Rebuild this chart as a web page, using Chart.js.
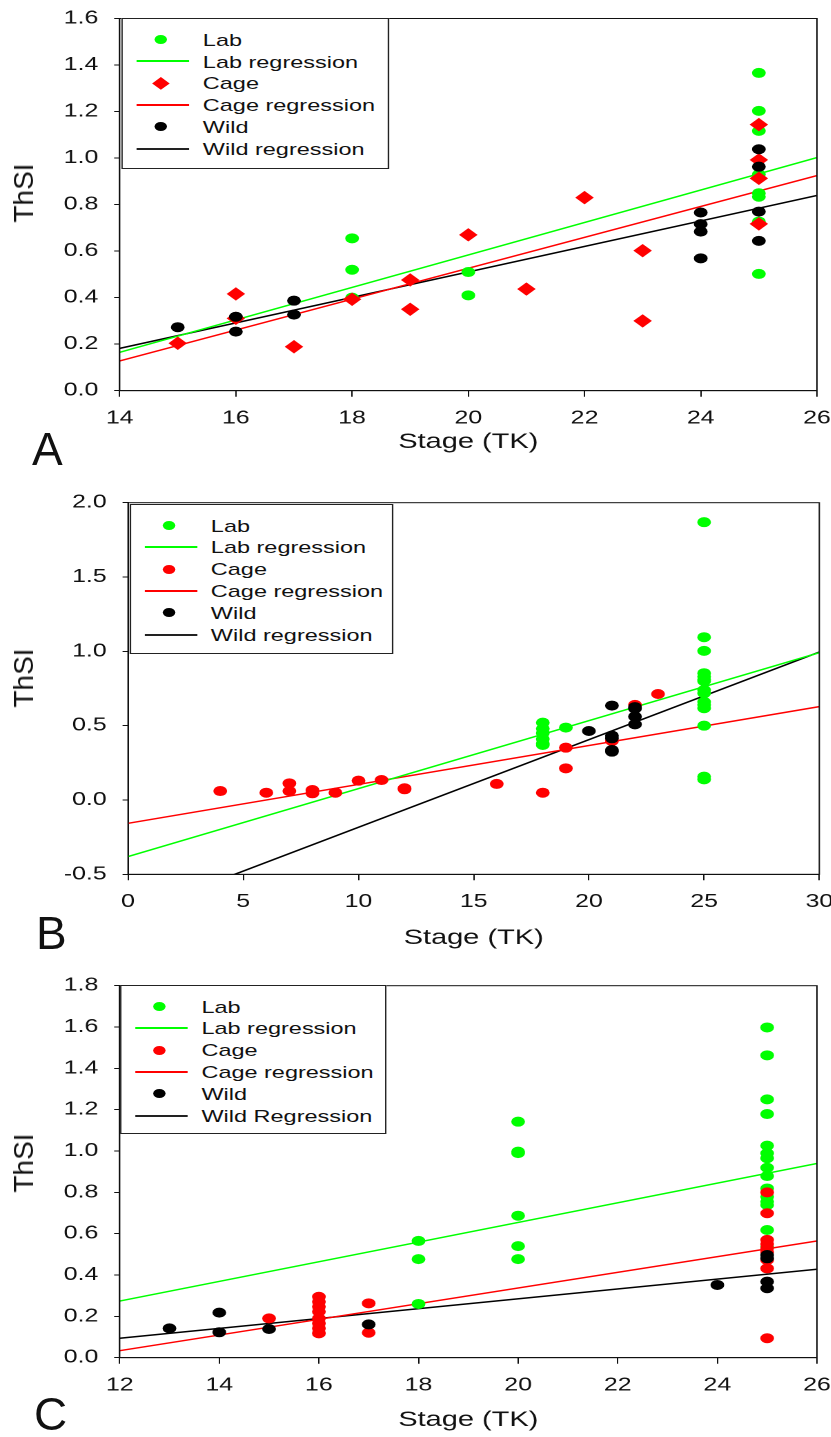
<!DOCTYPE html>
<html>
<head>
<meta charset="utf-8">
<script src="https://cdn.jsdelivr.net/npm/chart.js@4.4.0/dist/chart.umd.min.js"></script>
<style>
  body { margin: 0; background: #fff; width: 831px; height: 1437px; position: relative; overflow: hidden;
         font-family: 'Liberation Sans', Arial, sans-serif; color: #111; }
  .panel { position: absolute; left: 0; width: 602.17px; transform: scaleX(1.38); transform-origin: 0 0; }
  .panel canvas { display: block; }
  .legend { position: absolute; border: 1px solid #222; background: #fff; box-sizing: border-box; }
  .legend .txt { position: absolute; font-size: 17px; line-height: 1; white-space: nowrap; transform: translateY(-50%); }
  .legend .mk { position: absolute; }
  .letter { position: absolute; font-size: 46px; line-height: 1; }
  .ytitle { position: absolute; font-size: 28px; line-height: 1; white-space: nowrap;
            transform: translate(-50%, -50%) rotate(-90deg); }
</style>
</head>
<body>

<div class="panel" id="panelA" style="top:0px;height:470px"><canvas id="chartA"></canvas></div>
<div class="panel" id="panelB" style="top:485px;height:475px"><canvas id="chartB"></canvas></div>
<div class="panel" id="panelC" style="top:968px;height:469px"><canvas id="chartC"></canvas></div>

<div class="ytitle" style="left:24px;top:193px">ThSI</div>
<div class="ytitle" style="left:24px;top:678px">ThSI</div>
<div class="ytitle" style="left:24px;top:1163px">ThSI</div>

<div class="letter" style="left:32px;top:426px">A</div>
<div class="letter" style="left:36px;top:910px">B</div>
<div class="letter" style="left:34px;top:1391px">C</div>

<script>
// ---- Panel A ----
const xTicksA = [14, 16, 18, 20, 22, 24, 26];
const yTicksA = [0, 0.2, 0.4, 0.6, 0.8, 1.0, 1.2, 1.4, 1.6];
const labStageA = [18, 18, 18, 20, 20, 25, 25, 25, 25, 25, 25, 25, 25];
const labThsiA  = [0.655, 0.52, 0.40, 0.51, 0.41, 1.366, 1.203, 1.117, 0.93, 0.849, 0.834, 0.727, 0.502];
const cageStageA = [15, 16, 16, 17, 18, 19, 19, 20, 21, 22, 23, 23, 25, 25, 25, 25];
const cageThsiA  = [0.204, 0.416, 0.311, 0.189, 0.393, 0.476, 0.35, 0.67, 0.437, 0.83, 0.602, 0.30, 1.144, 0.992, 0.913, 0.717];
const wildStageA = [15, 16, 16, 17, 17, 24, 24, 24, 24, 25, 25, 25, 25];
const wildThsiA  = [0.273, 0.318, 0.254, 0.387, 0.327, 0.766, 0.716, 0.684, 0.569, 1.038, 0.963, 0.77, 0.644];
const fitStageA = [14, 26];
const labFitA  = [0.165, 1.002];
const cageFitA = [0.128, 0.925];
const wildFitA = [0.182, 0.839];

// ---- Panel B ----
const xTicksB = [0, 5, 10, 15, 20, 25, 30];
const yTicksB = [-0.5, 0, 0.5, 1.0, 1.5, 2.0];
const labStageB = [18, 18, 18, 18, 18, 18, 19, 25, 25, 25, 25, 25, 25, 25, 25, 25, 25, 25, 25, 25, 25, 25];
const labThsiB  = [0.52, 0.48, 0.45, 0.41, 0.38, 0.37, 0.487, 1.869, 1.095, 1.003, 0.853, 0.83, 0.81, 0.80, 0.74, 0.718, 0.66, 0.64, 0.617, 0.50, 0.157, 0.139];
const cageStageB = [4, 6, 7, 7, 8, 8, 9, 10, 11, 12, 12, 16, 18, 19, 19, 21, 22, 23];
const cageThsiB  = [0.06, 0.049, 0.112, 0.06, 0.067, 0.045, 0.049, 0.13, 0.134, 0.079, 0.072, 0.108, 0.049, 0.352, 0.213, 0.397, 0.64, 0.713];
const wildStageB = [20, 21, 21, 21, 21, 21, 22, 22, 22, 22];
const wildThsiB  = [0.464, 0.635, 0.433, 0.415, 0.336, 0.325, 0.625, 0.615, 0.561, 0.509];
const fitStageB = [0, 30];
const labFitB  = [-0.381, 0.991];
const cageFitB = [-0.157, 0.628];
const wildFitB = [-0.773, 0.995];

// ---- Panel C ----
const xTicksC = [12, 14, 16, 18, 20, 22, 24, 26];
const yTicksC = [0, 0.2, 0.4, 0.6, 0.8, 1.0, 1.2, 1.4, 1.6, 1.8];
const labStageC = [18, 18, 18, 20, 20, 20, 20, 20, 20, 25, 25, 25, 25, 25, 25, 25, 25, 25, 25, 25, 25, 25, 25, 25];
const labThsiC  = [0.565, 0.477, 0.26, 1.142, 0.997, 0.99, 0.687, 0.54, 0.477, 1.598, 1.463, 1.25, 1.179, 1.026, 0.989, 0.965, 0.919, 0.879, 0.819, 0.779, 0.755, 0.739, 0.618, 0.537];
const cageStageC = [15, 16, 16, 16, 16, 16, 16, 16, 16, 17, 17, 25, 25, 25, 25, 25, 25, 25, 25, 25];
const cageThsiC  = [0.19, 0.295, 0.271, 0.247, 0.223, 0.19, 0.166, 0.142, 0.118, 0.263, 0.121, 0.80, 0.699, 0.57, 0.55, 0.53, 0.51, 0.473, 0.432, 0.094];
const wildStageC = [13, 14, 14, 15, 17, 24, 25, 25, 25, 25];
const wildThsiC  = [0.142, 0.218, 0.123, 0.139, 0.161, 0.352, 0.497, 0.481, 0.368, 0.336];
const fitStageC = [12, 26];
const labFitC  = [0.274, 0.94];
const cageFitC = [0.034, 0.565];
const wildFitC = [0.094, 0.428];

const FONT = "'Liberation Sans', Arial, sans-serif";
const GREEN = '#00ff00', RED = '#ff0000', BLACK = '#000000';

function pts(xs, ys) {
    return xs.map((x, i) => ({ x: x, y: ys[i] }));
}

function dots(label, xs, ys, color, shape, radius, order) {
    return {
        label: label, data: pts(xs, ys), order: order,
        pointStyle: shape, pointRadius: radius, pointBorderWidth: 1,
        backgroundColor: color, borderColor: color, showLine: false
    };
}

function fit(label, xs, ys, color) {
    return {
        label: label, data: pts(xs, ys), order: 10,
        showLine: true, pointRadius: 0, borderWidth: 1.5,
        borderColor: color, backgroundColor: color, fill: false
    };
}

// box round the plot area
const framePlugin = {
    id: 'frame',
    afterDraw(chart) {
        const a = chart.chartArea, ctx = chart.ctx;
        ctx.save();
        ctx.strokeStyle = '#111';
        ctx.lineWidth = 1;
        ctx.strokeRect(a.left, a.top, a.right - a.left, a.bottom - a.top);
        ctx.restore();
    }
};

function makeChart(id, p) {
    return new Chart(document.getElementById(id), {
        type: 'scatter',
        data: { datasets: p.datasets },
        plugins: [framePlugin],
        options: {
            responsive: true,
            maintainAspectRatio: false,
            animation: false,
            devicePixelRatio: 2,
            layout: { padding: { top: p.padTop, right: p.padRight, left: 0, bottom: 0 } },
            plugins: { legend: { display: false }, tooltip: { enabled: false } },
            scales: {
                x: {
                    type: 'linear', position: 'bottom', min: p.xTicks[0], max: p.xTicks[p.xTicks.length - 1],
                    afterBuildTicks: s => { s.ticks = p.xTicks.map(v => ({ value: v })); },
                    afterFit: s => { s.height = p.xAxisH; s.paddingLeft = 0; s.paddingRight = 0; },
                    grid: { drawOnChartArea: false, drawTicks: true, tickLength: 6, color: '#111' },
                    border: { color: '#111', width: 1 },
                    ticks: { font: { family: FONT, size: 18 }, color: '#111', padding: 11, maxRotation: 0, autoSkip: false },
                    title: { display: true, text: 'Stage (TK)', color: '#111', font: { family: FONT, size: 21 },
                             padding: { top: 0, bottom: p.titlePad } }
                },
                y: {
                    type: 'linear', min: p.yTicks[0], max: p.yTicks[p.yTicks.length - 1],
                    afterBuildTicks: s => { s.ticks = p.yTicks.map(v => ({ value: v })); },
                    afterFit: s => { s.width = p.yAxisW; s.paddingTop = 0; s.paddingBottom = 0; },
                    grid: { drawOnChartArea: false, drawTicks: true, tickLength: 4, color: '#111' },
                    border: { color: '#111', width: 1 },
                    ticks: { font: { family: FONT, size: 18 }, color: '#111', padding: 11.5, autoSkip: false,
                             callback: v => Number(v).toFixed(1) }
                }
            }
        }
    });
}

makeChart('chartA', {
    xTicks: xTicksA, yTicks: yTicksA,
    padTop: 18.5, padRight: 10.2, yAxisW: 86.7, xAxisH: 79.3, titlePad: 15,
    datasets: [
        dots('Wild', wildStageA, wildThsiA, BLACK, 'circle', 4.5, 1),
        dots('Cage', cageStageA, cageThsiA, RED, 'rectRot', 6, 2),
        dots('Lab', labStageA, labThsiA, GREEN, 'circle', 4.5, 3),
        fit('Lab regression', fitStageA, labFitA, GREEN),
        fit('Cage regression', fitStageA, cageFitA, RED),
        fit('Wild regression', fitStageA, wildFitA, BLACK)
    ]
});

makeChart('chartB', {
    xTicks: xTicksB, yTicks: yTicksB,
    padTop: 17.7, padRight: 8.5, yAxisW: 92.8, xAxisH: 85.7, titlePad: 9.4,
    datasets: [
        dots('Wild', wildStageB, wildThsiB, BLACK, 'circle', 4.5, 1),
        dots('Cage', cageStageB, cageThsiB, RED, 'circle', 4.5, 2),
        dots('Lab', labStageB, labThsiB, GREEN, 'circle', 4.5, 3),
        fit('Lab regression', fitStageB, labFitB, GREEN),
        fit('Cage regression', fitStageB, cageFitB, RED),
        fit('Wild regression', fitStageB, wildFitB, BLACK)
    ]
});

makeChart('chartC', {
    xTicks: xTicksC, yTicks: yTicksC,
    padTop: 17.7, padRight: 10.2, yAxisW: 86.7, xAxisH: 79.3, titlePad: 4.4,
    datasets: [
        dots('Wild', wildStageC, wildThsiC, BLACK, 'circle', 4.5, 1),
        dots('Cage', cageStageC, cageThsiC, RED, 'circle', 4.5, 2),
        dots('Lab', labStageC, labThsiC, GREEN, 'circle', 4.5, 3),
        fit('Lab regression', fitStageC, labFitC, GREEN),
        fit('Cage regression', fitStageC, cageFitC, RED),
        fit('Wild Regression', fitStageC, wildFitC, BLACK)
    ]
});

// --- legends (html boxes inside the plot) ---
function addLegend(panelId, box, rows) {
    const panel = document.getElementById(panelId);
    const lg = document.createElement('div');
    lg.className = 'legend';
    lg.style.left = box.left + 'px';
    lg.style.top = box.top + 'px';
    lg.style.width = box.width + 'px';
    lg.style.height = box.height + 'px';
    rows.forEach((r, i) => {
        const cy = 20.5 + 21.8 * i;
        const mk = document.createElement('div');
        mk.className = 'mk';
        if (r.kind === 'line') {
            Object.assign(mk.style, { left: '10px', width: '38.5px', height: '2px', top: Math.round(cy - 1) + 'px', background: r.color });
        } else if (r.kind === 'diamond') {
            Object.assign(mk.style, { left: (28.3 - 4.6) + 'px', top: (cy - 4.6) + 'px', width: '9.2px', height: '9.2px',
                                      background: r.color, transform: 'rotate(45deg)' });
        } else {
            Object.assign(mk.style, { left: (28.3 - 4.5) + 'px', top: (cy - 4.5) + 'px', width: '9px', height: '9px',
                                      background: r.color, borderRadius: '50%' });
        }
        lg.appendChild(mk);
        const t = document.createElement('div');
        t.className = 'txt';
        t.style.left = '58.3px';
        t.style.top = cy + 'px';
        t.textContent = r.text;
        lg.appendChild(t);
    });
    panel.appendChild(lg);
}

addLegend('panelA', { left: 87.7, top: 18.3, width: 194.2, height: 150.7 }, [
    { kind: 'dot', color: GREEN, text: 'Lab' },
    { kind: 'line', color: GREEN, text: 'Lab regression' },
    { kind: 'diamond', color: RED, text: 'Cage' },
    { kind: 'line', color: RED, text: 'Cage regression' },
    { kind: 'dot', color: BLACK, text: 'Wild' },
    { kind: 'line', color: '#222', text: 'Wild regression' }
]);

addLegend('panelB', { left: 93.5, top: 19, width: 191.9, height: 150 }, [
    { kind: 'dot', color: GREEN, text: 'Lab' },
    { kind: 'line', color: GREEN, text: 'Lab regression' },
    { kind: 'dot', color: RED, text: 'Cage' },
    { kind: 'line', color: RED, text: 'Cage regression' },
    { kind: 'dot', color: BLACK, text: 'Wild' },
    { kind: 'line', color: '#222', text: 'Wild regression' }
]);

addLegend('panelC', { left: 86.7, top: 17, width: 193.6, height: 149.3 }, [
    { kind: 'dot', color: GREEN, text: 'Lab' },
    { kind: 'line', color: GREEN, text: 'Lab regression' },
    { kind: 'dot', color: RED, text: 'Cage' },
    { kind: 'line', color: RED, text: 'Cage regression' },
    { kind: 'dot', color: BLACK, text: 'Wild' },
    { kind: 'line', color: '#222', text: 'Wild Regression' }
]);
</script>
</body>
</html>
